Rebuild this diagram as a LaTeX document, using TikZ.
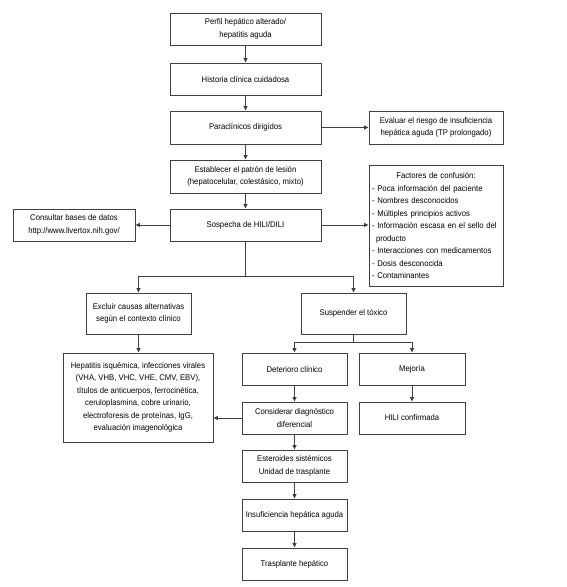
\documentclass[tikz,border=0pt]{standalone}
\usepackage{fontspec}
\setmainfont{Liberation Sans}[FakeStretch=0.93]
\usetikzlibrary{arrows.meta}
\tikzset{
box/.style={draw=black!75, line width=.9pt, align=center, inner sep=3pt, text=black, minimum width=151pt, minimum height=32pt, font=\fontsize{8.3}{12.5}\selectfont},
arr/.style={draw=black!75, line width=.9pt, -{Triangle[length=4.5pt,width=4pt]}},
ln/.style={draw=black!75, line width=.9pt}
}
\begin{document}
\begin{tikzpicture}[x=1pt,y=-1pt]
\useasboundingbox (0,0) rectangle (566,587);
\node[box] (perfil) at (245.5,29) {Perfil hepático alterado/\\hepatitis aguda};
\node[box] (historia) at (245.5,79) {Historia clínica cuidadosa};
\node[box, minimum height=33pt] (paracl) at (245.5,127.5) {Paraclínicos dirigidos};
\node[box, minimum width=134pt, minimum height=33pt] (evaluar) at (436,127.5) {Evaluar el riesgo de insuficiencia\\hepática aguda (TP prolongado)};
\node[box, minimum height=33pt] (patron) at (245.5,176.5) {Establecer el patrón de lesión\\(hepatocelular, colestásico, mixto)};
\node[box, minimum width=134pt, text width=128pt, minimum height=121pt, align=left] (factores) at (436,225.5) {{\centering Factores de confusión:\par}
- Poca información del paciente\\
- Nombres desconocidos\\
- Múltiples principios activos\\
- Información escasa en el sello del\\
\hspace*{4pt}producto\\
- Interacciones con medicamentos\\
- Dosis desconocida\\
- Contaminantes};
\node[box] (sospecha) at (245.5,225) {Sospecha de HILI/DILI};
\node[box, minimum width=122pt] (consultar) at (74,225) {Consultar bases de datos\\http://www.livertox.nih.gov/};
\node[box, minimum width=105pt, minimum height=41pt] (excluir) at (138.5,313.5) {Excluir causas alternativas\\según el contexto clínico};
\node[box, minimum width=105pt, minimum height=41pt] (suspender) at (353.5,313.5) {Suspender el tóxico};
\node[box, minimum width=150pt, minimum height=89pt] (hepatitis) at (138,397.5) {Hepatitis isquémica, infecciones virales\\(VHA, VHB, VHC, VHE, CMV, EBV),\\títulos de anticuerpos, ferrocinética,\\ceruloplasmina, cobre urinario,\\electroforesis de proteínas, IgG,\\evaluación imagenológica};
\node[box, minimum width=105pt] (deterioro) at (294.5,369) {Deterioro clínico};
\node[box, minimum width=106pt] (mejoria) at (412,369) {Mejoría};
\node[box, minimum width=105pt] (considerar) at (294.5,418) {Considerar diagnóstico\\diferencial};
\node[box, minimum width=106pt] (hili) at (412,418) {HILI confirmada};
\node[box, minimum width=105pt] (esteroides) at (294.5,466) {Esteroides sistémicos\\Unidad de trasplante};
\node[box, minimum width=105pt] (insuf) at (294.5,515) {Insuficiencia hepática aguda};
\node[box, minimum width=105pt] (trasplante) at (294.5,564) {Trasplante hepático};
\draw[arr] (perfil) -- (historia);
\draw[arr] (historia) -- (paracl);
\draw[arr] (paracl) -- (patron);
\draw[arr] (patron) -- (sospecha);
\draw[arr] (paracl) -- (evaluar);
\draw[arr] (sospecha) -- (consultar);
\draw[arr] (sospecha) -- (sospecha -| factores.west);
\coordinate (split) at (245.5,276);
\draw[ln] (sospecha) -- (split);
\draw[arr] (split) -| (excluir);
\draw[arr] (split) -| (suspender);
\draw[arr] (excluir) -- (excluir |- hepatitis.north);
\coordinate (split2) at (353.5,342);
\draw[ln] (suspender) -- (split2);
\draw[arr] (split2) -| (deterioro);
\draw[arr] (split2) -| (mejoria);
\draw[arr] (deterioro) -- (considerar);
\draw[arr] (mejoria) -- (hili);
\draw[arr] (considerar) -- (considerar -| hepatitis.east);
\draw[arr] (considerar) -- (esteroides);
\draw[arr] (esteroides) -- (insuf);
\draw[arr] (insuf) -- (trasplante);
\end{tikzpicture}
\end{document}
